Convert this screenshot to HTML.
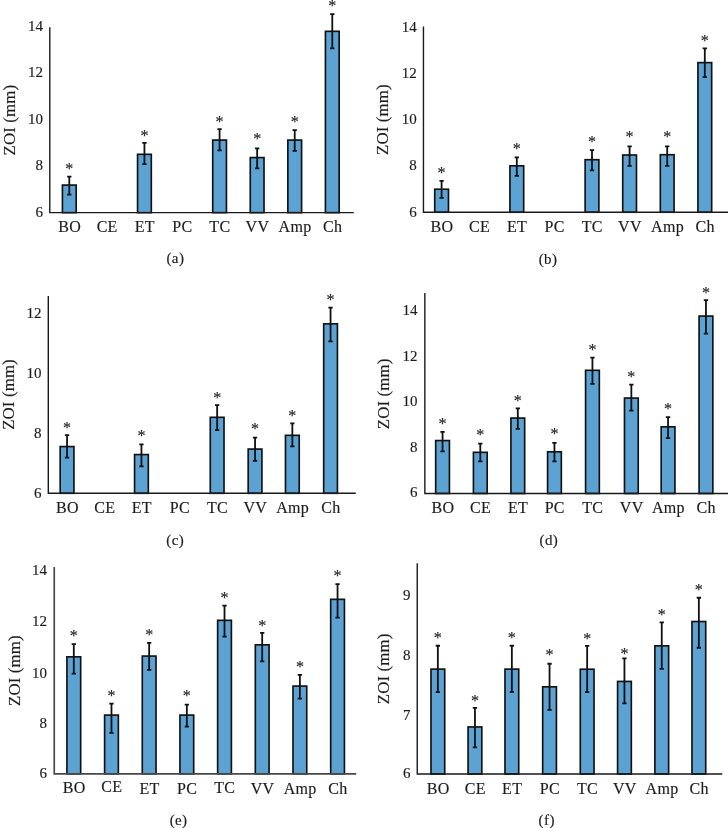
<!DOCTYPE html>
<html><head><meta charset="utf-8"><title>ZOI charts</title>
<style>html,body{margin:0;padding:0;background:#fff}body{width:728px;height:828px;overflow:hidden;position:relative;font-family:"Liberation Serif",serif}svg{position:absolute;left:0;top:0;display:block;font-family:"Liberation Serif",serif}#txt{will-change:transform;transform:translateZ(0)}</style>
</head><body>
<svg width="728" height="828" viewBox="0 0 728 828"><rect width="728" height="828" fill="#fff"/>
<g><rect x="62.43" y="185.07" width="13.75" height="27.58" fill="#5ca2d3" stroke="#111" stroke-width="1.65"/><path d="M69.30 176.25V195.05M67.15 176.70h4.30M67.15 194.60h4.30" stroke="#111" stroke-width="1.80" fill="none"/><rect x="137.56" y="154.32" width="13.75" height="58.33" fill="#5ca2d3" stroke="#111" stroke-width="1.65"/><path d="M144.44 142.50V164.55M142.29 142.95h4.30M142.29 164.10h4.30" stroke="#111" stroke-width="1.80" fill="none"/><rect x="212.70" y="140.07" width="13.75" height="72.58" fill="#5ca2d3" stroke="#111" stroke-width="1.65"/><path d="M219.58 128.75V150.80M217.43 129.20h4.30M217.43 150.35h4.30" stroke="#111" stroke-width="1.80" fill="none"/><rect x="250.27" y="157.57" width="13.75" height="55.08" fill="#5ca2d3" stroke="#111" stroke-width="1.65"/><path d="M257.15 148.00V168.80M255.00 148.45h4.30M255.00 168.35h4.30" stroke="#111" stroke-width="1.80" fill="none"/><rect x="287.85" y="140.07" width="13.75" height="72.58" fill="#5ca2d3" stroke="#111" stroke-width="1.65"/><path d="M294.72 129.75V151.30M292.57 130.20h4.30M292.57 150.85h4.30" stroke="#111" stroke-width="1.80" fill="none"/><rect x="325.42" y="31.32" width="13.75" height="181.33" fill="#5ca2d3" stroke="#111" stroke-width="1.65"/><path d="M332.29 13.75V48.80M330.14 14.20h4.30M330.14 48.35h4.30" stroke="#111" stroke-width="1.80" fill="none"/><path d="M49.80 27.20V212.65H353.75" stroke="#1a1a1a" stroke-width="1.40" fill="none"/></g>
<g><rect x="434.73" y="189.22" width="13.75" height="23.02" fill="#5ca2d3" stroke="#111" stroke-width="1.65"/><path d="M441.60 180.50V198.30M439.45 180.95h4.30M439.45 197.85h4.30" stroke="#111" stroke-width="1.80" fill="none"/><rect x="509.93" y="165.82" width="13.75" height="46.42" fill="#5ca2d3" stroke="#111" stroke-width="1.65"/><path d="M516.80 157.00V176.30M514.65 157.45h4.30M514.65 175.85h4.30" stroke="#111" stroke-width="1.80" fill="none"/><rect x="585.13" y="159.72" width="13.75" height="52.52" fill="#5ca2d3" stroke="#111" stroke-width="1.65"/><path d="M592.00 149.75V170.80M589.85 150.20h4.30M589.85 170.35h4.30" stroke="#111" stroke-width="1.80" fill="none"/><rect x="622.73" y="155.02" width="13.75" height="57.23" fill="#5ca2d3" stroke="#111" stroke-width="1.65"/><path d="M629.60 146.00V166.30M627.45 146.45h4.30M627.45 165.85h4.30" stroke="#111" stroke-width="1.80" fill="none"/><rect x="660.33" y="154.72" width="13.75" height="57.52" fill="#5ca2d3" stroke="#111" stroke-width="1.65"/><path d="M667.20 146.00V166.30M665.05 146.45h4.30M665.05 165.85h4.30" stroke="#111" stroke-width="1.80" fill="none"/><rect x="697.93" y="62.62" width="13.75" height="149.62" fill="#5ca2d3" stroke="#111" stroke-width="1.65"/><path d="M704.80 48.00V77.55M702.65 48.45h4.30M702.65 77.10h4.30" stroke="#111" stroke-width="1.80" fill="none"/><path d="M423.45 26.60V212.25H728.00" stroke="#1a1a1a" stroke-width="1.40" fill="none"/></g>
<g><rect x="60.18" y="446.57" width="13.75" height="46.73" fill="#5ca2d3" stroke="#111" stroke-width="1.65"/><path d="M67.05 434.75V458.05M64.90 435.20h4.30M64.90 457.60h4.30" stroke="#111" stroke-width="1.80" fill="none"/><rect x="134.57" y="454.57" width="13.75" height="38.73" fill="#5ca2d3" stroke="#111" stroke-width="1.65"/><path d="M141.45 444.00V466.80M139.30 444.45h4.30M139.30 466.35h4.30" stroke="#111" stroke-width="1.80" fill="none"/><rect x="210.27" y="417.32" width="13.75" height="75.98" fill="#5ca2d3" stroke="#111" stroke-width="1.65"/><path d="M217.15 404.75V430.55M215.00 405.20h4.30M215.00 430.10h4.30" stroke="#111" stroke-width="1.80" fill="none"/><rect x="248.17" y="449.07" width="13.75" height="44.23" fill="#5ca2d3" stroke="#111" stroke-width="1.65"/><path d="M255.05 437.25V461.30M252.90 437.70h4.30M252.90 460.85h4.30" stroke="#111" stroke-width="1.80" fill="none"/><rect x="285.48" y="435.32" width="13.75" height="57.98" fill="#5ca2d3" stroke="#111" stroke-width="1.65"/><path d="M292.35 423.00V446.80M290.20 423.45h4.30M290.20 446.35h4.30" stroke="#111" stroke-width="1.80" fill="none"/><rect x="323.68" y="323.82" width="13.75" height="169.48" fill="#5ca2d3" stroke="#111" stroke-width="1.65"/><path d="M330.55 307.25V341.80M328.40 307.70h4.30M328.40 341.35h4.30" stroke="#111" stroke-width="1.80" fill="none"/><path d="M48.30 296.00V493.30H355.75" stroke="#1a1a1a" stroke-width="1.40" fill="none"/></g>
<g><rect x="435.68" y="440.57" width="13.75" height="52.92" fill="#5ca2d3" stroke="#111" stroke-width="1.65"/><path d="M442.55 431.50V451.80M440.40 431.95h4.30M440.40 451.35h4.30" stroke="#111" stroke-width="1.80" fill="none"/><rect x="473.43" y="452.32" width="13.75" height="41.17" fill="#5ca2d3" stroke="#111" stroke-width="1.65"/><path d="M480.30 443.25V461.80M478.15 443.70h4.30M478.15 461.35h4.30" stroke="#111" stroke-width="1.80" fill="none"/><rect x="510.93" y="418.07" width="13.75" height="75.42" fill="#5ca2d3" stroke="#111" stroke-width="1.65"/><path d="M517.80 408.00V429.30M515.65 408.45h4.30M515.65 428.85h4.30" stroke="#111" stroke-width="1.80" fill="none"/><rect x="547.58" y="451.82" width="13.75" height="41.67" fill="#5ca2d3" stroke="#111" stroke-width="1.65"/><path d="M554.45 442.50V461.80M552.30 442.95h4.30M552.30 461.35h4.30" stroke="#111" stroke-width="1.80" fill="none"/><rect x="585.58" y="370.32" width="13.75" height="123.17" fill="#5ca2d3" stroke="#111" stroke-width="1.65"/><path d="M592.45 357.25V384.30M590.30 357.70h4.30M590.30 383.85h4.30" stroke="#111" stroke-width="1.80" fill="none"/><rect x="624.48" y="398.07" width="13.75" height="95.42" fill="#5ca2d3" stroke="#111" stroke-width="1.65"/><path d="M631.35 384.25V411.05M629.20 384.70h4.30M629.20 410.60h4.30" stroke="#111" stroke-width="1.80" fill="none"/><rect x="661.18" y="426.82" width="13.75" height="66.67" fill="#5ca2d3" stroke="#111" stroke-width="1.65"/><path d="M668.05 416.75V438.55M665.90 417.20h4.30M665.90 438.10h4.30" stroke="#111" stroke-width="1.80" fill="none"/><rect x="699.08" y="316.07" width="13.75" height="177.43" fill="#5ca2d3" stroke="#111" stroke-width="1.65"/><path d="M705.95 299.75V334.05M703.80 300.20h4.30M703.80 333.60h4.30" stroke="#111" stroke-width="1.80" fill="none"/><path d="M424.85 293.00V493.50H728.00" stroke="#1a1a1a" stroke-width="1.40" fill="none"/></g>
<g><rect x="66.92" y="656.83" width="13.75" height="116.97" fill="#5ca2d3" stroke="#111" stroke-width="1.65"/><path d="M73.80 643.75V674.05M71.65 644.20h4.30M71.65 673.60h4.30" stroke="#111" stroke-width="1.80" fill="none"/><rect x="104.61" y="715.08" width="13.75" height="58.72" fill="#5ca2d3" stroke="#111" stroke-width="1.65"/><path d="M111.48 703.25V733.30M109.33 703.70h4.30M109.33 732.85h4.30" stroke="#111" stroke-width="1.80" fill="none"/><rect x="142.28" y="656.08" width="13.75" height="117.72" fill="#5ca2d3" stroke="#111" stroke-width="1.65"/><path d="M149.16 642.50V670.30M147.01 642.95h4.30M147.01 669.85h4.30" stroke="#111" stroke-width="1.80" fill="none"/><rect x="179.96" y="715.08" width="13.75" height="58.72" fill="#5ca2d3" stroke="#111" stroke-width="1.65"/><path d="M186.84 704.25V727.05M184.69 704.70h4.30M184.69 726.60h4.30" stroke="#111" stroke-width="1.80" fill="none"/><rect x="217.64" y="620.33" width="13.75" height="153.47" fill="#5ca2d3" stroke="#111" stroke-width="1.65"/><path d="M224.52 605.25V637.05M222.37 605.70h4.30M222.37 636.60h4.30" stroke="#111" stroke-width="1.80" fill="none"/><rect x="255.32" y="644.83" width="13.75" height="128.97" fill="#5ca2d3" stroke="#111" stroke-width="1.65"/><path d="M262.20 632.50V661.80M260.05 632.95h4.30M260.05 661.35h4.30" stroke="#111" stroke-width="1.80" fill="none"/><rect x="293.00" y="686.08" width="13.75" height="87.72" fill="#5ca2d3" stroke="#111" stroke-width="1.65"/><path d="M299.88 674.50V699.05M297.73 674.95h4.30M297.73 698.60h4.30" stroke="#111" stroke-width="1.80" fill="none"/><rect x="330.69" y="599.33" width="13.75" height="174.47" fill="#5ca2d3" stroke="#111" stroke-width="1.65"/><path d="M337.56 583.75V618.05M335.41 584.20h4.30M335.41 617.60h4.30" stroke="#111" stroke-width="1.80" fill="none"/><path d="M54.25 567.00V773.80H356.25" stroke="#484848" stroke-width="1.65" fill="none"/></g>
<g><rect x="430.98" y="669.12" width="13.75" height="104.88" fill="#5ca2d3" stroke="#111" stroke-width="1.65"/><path d="M437.85 645.30V692.50M435.70 645.75h4.30M435.70 692.05h4.30" stroke="#111" stroke-width="1.80" fill="none"/><rect x="468.07" y="726.93" width="13.75" height="47.07" fill="#5ca2d3" stroke="#111" stroke-width="1.65"/><path d="M474.95 707.40V747.80M472.80 707.85h4.30M472.80 747.35h4.30" stroke="#111" stroke-width="1.80" fill="none"/><rect x="504.98" y="669.12" width="13.75" height="104.88" fill="#5ca2d3" stroke="#111" stroke-width="1.65"/><path d="M511.85 645.30V692.50M509.70 645.75h4.30M509.70 692.05h4.30" stroke="#111" stroke-width="1.80" fill="none"/><rect x="542.68" y="686.83" width="13.75" height="87.17" fill="#5ca2d3" stroke="#111" stroke-width="1.65"/><path d="M549.55 663.30V710.30M547.40 663.75h4.30M547.40 709.85h4.30" stroke="#111" stroke-width="1.80" fill="none"/><rect x="580.28" y="669.23" width="13.75" height="104.78" fill="#5ca2d3" stroke="#111" stroke-width="1.65"/><path d="M587.15 645.50V692.50M585.00 645.95h4.30M585.00 692.05h4.30" stroke="#111" stroke-width="1.80" fill="none"/><rect x="617.58" y="681.43" width="13.75" height="92.57" fill="#5ca2d3" stroke="#111" stroke-width="1.65"/><path d="M624.45 658.00V703.80M622.30 658.45h4.30M622.30 703.35h4.30" stroke="#111" stroke-width="1.80" fill="none"/><rect x="654.88" y="645.83" width="13.75" height="128.18" fill="#5ca2d3" stroke="#111" stroke-width="1.65"/><path d="M661.75 622.00V669.40M659.60 622.45h4.30M659.60 668.95h4.30" stroke="#111" stroke-width="1.80" fill="none"/><rect x="691.98" y="621.53" width="13.75" height="152.47" fill="#5ca2d3" stroke="#111" stroke-width="1.65"/><path d="M698.85 597.30V648.20M696.70 597.75h4.30M696.70 647.75h4.30" stroke="#111" stroke-width="1.80" fill="none"/><path d="M417.25 563.25V774.00H722.25" stroke="#1a1a1a" stroke-width="1.40" fill="none"/></g>
</svg>
<svg id="txt" width="728" height="828" viewBox="0 0 728 828">
<g stroke="#1c1c1c" stroke-width="0.16"><text x="69.30" y="174.00" font-size="16" text-anchor="middle" fill="#222">*</text><text x="144.44" y="140.75" font-size="16" text-anchor="middle" fill="#222">*</text><text x="219.58" y="126.75" font-size="16" text-anchor="middle" fill="#222">*</text><text x="257.15" y="144.25" font-size="16" text-anchor="middle" fill="#222">*</text><text x="294.72" y="126.75" font-size="16" text-anchor="middle" fill="#222">*</text><text x="332.29" y="11.25" font-size="16" text-anchor="middle" fill="#222">*</text><text x="43.00" y="30.95" font-size="15.0" text-anchor="end" fill="#1c1c1c">14</text><text x="43.00" y="77.45" font-size="15.0" text-anchor="end" fill="#1c1c1c">12</text><text x="43.00" y="123.95" font-size="15.0" text-anchor="end" fill="#1c1c1c">10</text><text x="43.00" y="170.45" font-size="15.0" text-anchor="end" fill="#1c1c1c">8</text><text x="43.00" y="216.95" font-size="15.0" text-anchor="end" fill="#1c1c1c">6</text><text x="69.60" y="232.10" font-size="16.0" text-anchor="middle" fill="#1c1c1c" letter-spacing="0.3">BO</text><text x="107.17" y="232.10" font-size="16.0" text-anchor="middle" fill="#1c1c1c" letter-spacing="0.3">CE</text><text x="144.74" y="232.10" font-size="16.0" text-anchor="middle" fill="#1c1c1c" letter-spacing="0.3">ET</text><text x="182.31" y="232.10" font-size="16.0" text-anchor="middle" fill="#1c1c1c" letter-spacing="0.3">PC</text><text x="219.88" y="232.10" font-size="16.0" text-anchor="middle" fill="#1c1c1c" letter-spacing="0.3">TC</text><text x="257.45" y="232.10" font-size="16.0" text-anchor="middle" fill="#1c1c1c" letter-spacing="0.3">VV</text><text x="295.02" y="232.10" font-size="16.0" text-anchor="middle" fill="#1c1c1c" letter-spacing="0.3">Amp</text><text x="332.59" y="232.10" font-size="16.0" text-anchor="middle" fill="#1c1c1c" letter-spacing="0.3">Ch</text><text transform="translate(14.90 120.10) rotate(-90)" font-size="16.8" text-anchor="middle" fill="#1c1c1c" letter-spacing="0.15">ZOI (mm)</text><text x="175.40" y="263.40" font-size="15.0" text-anchor="middle" fill="#1c1c1c" letter-spacing="0.4">(a)</text></g>
<g stroke="#1c1c1c" stroke-width="0.16"><text x="441.60" y="177.55" font-size="16" text-anchor="middle" fill="#222">*</text><text x="516.80" y="154.25" font-size="16" text-anchor="middle" fill="#222">*</text><text x="592.00" y="147.05" font-size="16" text-anchor="middle" fill="#222">*</text><text x="629.60" y="142.25" font-size="16" text-anchor="middle" fill="#222">*</text><text x="667.20" y="142.25" font-size="16" text-anchor="middle" fill="#222">*</text><text x="704.80" y="45.50" font-size="16" text-anchor="middle" fill="#222">*</text><text x="416.80" y="31.55" font-size="15.0" text-anchor="end" fill="#1c1c1c">14</text><text x="416.80" y="77.85" font-size="15.0" text-anchor="end" fill="#1c1c1c">12</text><text x="416.80" y="123.95" font-size="15.0" text-anchor="end" fill="#1c1c1c">10</text><text x="416.80" y="170.35" font-size="15.0" text-anchor="end" fill="#1c1c1c">8</text><text x="416.80" y="216.65" font-size="15.0" text-anchor="end" fill="#1c1c1c">6</text><text x="441.90" y="232.10" font-size="16.0" text-anchor="middle" fill="#1c1c1c" letter-spacing="0.3">BO</text><text x="479.50" y="232.10" font-size="16.0" text-anchor="middle" fill="#1c1c1c" letter-spacing="0.3">CE</text><text x="517.10" y="232.10" font-size="16.0" text-anchor="middle" fill="#1c1c1c" letter-spacing="0.3">ET</text><text x="554.70" y="232.10" font-size="16.0" text-anchor="middle" fill="#1c1c1c" letter-spacing="0.3">PC</text><text x="592.30" y="232.10" font-size="16.0" text-anchor="middle" fill="#1c1c1c" letter-spacing="0.3">TC</text><text x="629.90" y="232.10" font-size="16.0" text-anchor="middle" fill="#1c1c1c" letter-spacing="0.3">VV</text><text x="667.50" y="232.10" font-size="16.0" text-anchor="middle" fill="#1c1c1c" letter-spacing="0.3">Amp</text><text x="705.10" y="232.10" font-size="16.0" text-anchor="middle" fill="#1c1c1c" letter-spacing="0.3">Ch</text><text transform="translate(387.60 119.60) rotate(-90)" font-size="16.8" text-anchor="middle" fill="#1c1c1c" letter-spacing="0.15">ZOI (mm)</text><text x="548.00" y="263.80" font-size="15.0" text-anchor="middle" fill="#1c1c1c" letter-spacing="0.4">(b)</text></g>
<g stroke="#1c1c1c" stroke-width="0.16"><text x="67.05" y="432.50" font-size="16" text-anchor="middle" fill="#222">*</text><text x="141.45" y="441.25" font-size="16" text-anchor="middle" fill="#222">*</text><text x="217.15" y="402.75" font-size="16" text-anchor="middle" fill="#222">*</text><text x="255.05" y="434.25" font-size="16" text-anchor="middle" fill="#222">*</text><text x="292.35" y="420.55" font-size="16" text-anchor="middle" fill="#222">*</text><text x="330.55" y="304.50" font-size="16" text-anchor="middle" fill="#222">*</text><text x="41.55" y="318.35" font-size="15.0" text-anchor="end" fill="#1c1c1c">12</text><text x="41.55" y="378.05" font-size="15.0" text-anchor="end" fill="#1c1c1c">10</text><text x="41.55" y="437.85" font-size="15.0" text-anchor="end" fill="#1c1c1c">8</text><text x="41.55" y="497.65" font-size="15.0" text-anchor="end" fill="#1c1c1c">6</text><text x="67.35" y="513.00" font-size="16.0" text-anchor="middle" fill="#1c1c1c" letter-spacing="0.3">BO</text><text x="104.85" y="513.00" font-size="16.0" text-anchor="middle" fill="#1c1c1c" letter-spacing="0.3">CE</text><text x="141.75" y="513.00" font-size="16.0" text-anchor="middle" fill="#1c1c1c" letter-spacing="0.3">ET</text><text x="179.85" y="513.00" font-size="16.0" text-anchor="middle" fill="#1c1c1c" letter-spacing="0.3">PC</text><text x="217.45" y="513.00" font-size="16.0" text-anchor="middle" fill="#1c1c1c" letter-spacing="0.3">TC</text><text x="255.35" y="513.00" font-size="16.0" text-anchor="middle" fill="#1c1c1c" letter-spacing="0.3">VV</text><text x="292.65" y="513.00" font-size="16.0" text-anchor="middle" fill="#1c1c1c" letter-spacing="0.3">Amp</text><text x="330.85" y="513.00" font-size="16.0" text-anchor="middle" fill="#1c1c1c" letter-spacing="0.3">Ch</text><text transform="translate(13.90 394.50) rotate(-90)" font-size="16.8" text-anchor="middle" fill="#1c1c1c" letter-spacing="0.15">ZOI (mm)</text><text x="175.30" y="544.90" font-size="15.0" text-anchor="middle" fill="#1c1c1c" letter-spacing="0.4">(c)</text></g>
<g stroke="#1c1c1c" stroke-width="0.16"><text x="442.55" y="428.75" font-size="16" text-anchor="middle" fill="#222">*</text><text x="480.30" y="440.00" font-size="16" text-anchor="middle" fill="#222">*</text><text x="517.80" y="405.75" font-size="16" text-anchor="middle" fill="#222">*</text><text x="554.45" y="439.25" font-size="16" text-anchor="middle" fill="#222">*</text><text x="592.45" y="354.50" font-size="16" text-anchor="middle" fill="#222">*</text><text x="631.35" y="381.50" font-size="16" text-anchor="middle" fill="#222">*</text><text x="668.05" y="414.00" font-size="16" text-anchor="middle" fill="#222">*</text><text x="705.95" y="297.75" font-size="16" text-anchor="middle" fill="#222">*</text><text x="417.60" y="314.85" font-size="15.0" text-anchor="end" fill="#1c1c1c">14</text><text x="417.60" y="360.85" font-size="15.0" text-anchor="end" fill="#1c1c1c">12</text><text x="417.60" y="406.05" font-size="15.0" text-anchor="end" fill="#1c1c1c">10</text><text x="417.60" y="452.25" font-size="15.0" text-anchor="end" fill="#1c1c1c">8</text><text x="417.60" y="497.45" font-size="15.0" text-anchor="end" fill="#1c1c1c">6</text><text x="442.85" y="513.00" font-size="16.0" text-anchor="middle" fill="#1c1c1c" letter-spacing="0.3">BO</text><text x="480.60" y="513.00" font-size="16.0" text-anchor="middle" fill="#1c1c1c" letter-spacing="0.3">CE</text><text x="518.10" y="513.00" font-size="16.0" text-anchor="middle" fill="#1c1c1c" letter-spacing="0.3">ET</text><text x="554.75" y="513.00" font-size="16.0" text-anchor="middle" fill="#1c1c1c" letter-spacing="0.3">PC</text><text x="592.75" y="513.00" font-size="16.0" text-anchor="middle" fill="#1c1c1c" letter-spacing="0.3">TC</text><text x="631.65" y="513.00" font-size="16.0" text-anchor="middle" fill="#1c1c1c" letter-spacing="0.3">VV</text><text x="668.35" y="513.00" font-size="16.0" text-anchor="middle" fill="#1c1c1c" letter-spacing="0.3">Amp</text><text x="706.25" y="513.00" font-size="16.0" text-anchor="middle" fill="#1c1c1c" letter-spacing="0.3">Ch</text><text transform="translate(388.80 393.90) rotate(-90)" font-size="16.8" text-anchor="middle" fill="#1c1c1c" letter-spacing="0.15">ZOI (mm)</text><text x="548.90" y="545.10" font-size="15.0" text-anchor="middle" fill="#1c1c1c" letter-spacing="0.4">(d)</text></g>
<g stroke="#1c1c1c" stroke-width="0.16"><text x="73.80" y="641.00" font-size="16" text-anchor="middle" fill="#222">*</text><text x="111.48" y="701.00" font-size="16" text-anchor="middle" fill="#222">*</text><text x="149.16" y="639.75" font-size="16" text-anchor="middle" fill="#222">*</text><text x="186.84" y="701.00" font-size="16" text-anchor="middle" fill="#222">*</text><text x="224.52" y="603.00" font-size="16" text-anchor="middle" fill="#222">*</text><text x="262.20" y="631.00" font-size="16" text-anchor="middle" fill="#222">*</text><text x="299.88" y="671.75" font-size="16" text-anchor="middle" fill="#222">*</text><text x="337.56" y="580.50" font-size="16" text-anchor="middle" fill="#222">*</text><text x="47.05" y="575.05" font-size="15.0" text-anchor="end" fill="#1c1c1c">14</text><text x="47.05" y="626.30" font-size="15.0" text-anchor="end" fill="#1c1c1c">12</text><text x="47.05" y="677.55" font-size="15.0" text-anchor="end" fill="#1c1c1c">10</text><text x="47.05" y="727.55" font-size="15.0" text-anchor="end" fill="#1c1c1c">8</text><text x="47.05" y="778.05" font-size="15.0" text-anchor="end" fill="#1c1c1c">6</text><text x="74.10" y="793.00" font-size="16.0" text-anchor="middle" fill="#1c1c1c" letter-spacing="0.3">BO</text><text x="111.78" y="791.50" font-size="16.0" text-anchor="middle" fill="#1c1c1c" letter-spacing="0.3">CE</text><text x="149.46" y="793.90" font-size="16.0" text-anchor="middle" fill="#1c1c1c" letter-spacing="0.3">ET</text><text x="187.14" y="793.90" font-size="16.0" text-anchor="middle" fill="#1c1c1c" letter-spacing="0.3">PC</text><text x="224.82" y="793.00" font-size="16.0" text-anchor="middle" fill="#1c1c1c" letter-spacing="0.3">TC</text><text x="262.50" y="794.30" font-size="16.0" text-anchor="middle" fill="#1c1c1c" letter-spacing="0.3">VV</text><text x="300.18" y="793.90" font-size="16.0" text-anchor="middle" fill="#1c1c1c" letter-spacing="0.3">Amp</text><text x="337.86" y="793.90" font-size="16.0" text-anchor="middle" fill="#1c1c1c" letter-spacing="0.3">Ch</text><text transform="translate(19.70 670.70) rotate(-90)" font-size="16.8" text-anchor="middle" fill="#1c1c1c" letter-spacing="0.15">ZOI (mm)</text><text x="178.60" y="825.10" font-size="15.0" text-anchor="middle" fill="#1c1c1c" letter-spacing="0.4">(e)</text></g>
<g stroke="#1c1c1c" stroke-width="0.16"><text x="437.85" y="642.75" font-size="16" text-anchor="middle" fill="#222">*</text><text x="474.95" y="705.85" font-size="16" text-anchor="middle" fill="#222">*</text><text x="511.85" y="642.95" font-size="16" text-anchor="middle" fill="#222">*</text><text x="549.55" y="660.45" font-size="16" text-anchor="middle" fill="#222">*</text><text x="587.15" y="643.55" font-size="16" text-anchor="middle" fill="#222">*</text><text x="624.45" y="658.85" font-size="16" text-anchor="middle" fill="#222">*</text><text x="661.75" y="619.55" font-size="16" text-anchor="middle" fill="#222">*</text><text x="698.85" y="594.85" font-size="16" text-anchor="middle" fill="#222">*</text><text x="410.55" y="600.30" font-size="15.0" text-anchor="end" fill="#1c1c1c">9</text><text x="410.55" y="659.55" font-size="15.0" text-anchor="end" fill="#1c1c1c">8</text><text x="410.55" y="719.55" font-size="15.0" text-anchor="end" fill="#1c1c1c">7</text><text x="410.55" y="778.05" font-size="15.0" text-anchor="end" fill="#1c1c1c">6</text><text x="438.15" y="793.90" font-size="16.0" text-anchor="middle" fill="#1c1c1c" letter-spacing="0.3">BO</text><text x="475.25" y="793.90" font-size="16.0" text-anchor="middle" fill="#1c1c1c" letter-spacing="0.3">CE</text><text x="512.15" y="793.90" font-size="16.0" text-anchor="middle" fill="#1c1c1c" letter-spacing="0.3">ET</text><text x="549.85" y="793.90" font-size="16.0" text-anchor="middle" fill="#1c1c1c" letter-spacing="0.3">PC</text><text x="587.45" y="793.90" font-size="16.0" text-anchor="middle" fill="#1c1c1c" letter-spacing="0.3">TC</text><text x="624.75" y="793.90" font-size="16.0" text-anchor="middle" fill="#1c1c1c" letter-spacing="0.3">VV</text><text x="662.05" y="793.90" font-size="16.0" text-anchor="middle" fill="#1c1c1c" letter-spacing="0.3">Amp</text><text x="699.15" y="793.90" font-size="16.0" text-anchor="middle" fill="#1c1c1c" letter-spacing="0.3">Ch</text><text transform="translate(389.40 668.90) rotate(-90)" font-size="16.8" text-anchor="middle" fill="#1c1c1c" letter-spacing="0.15">ZOI (mm)</text><text x="546.70" y="825.10" font-size="15.0" text-anchor="middle" fill="#1c1c1c" letter-spacing="0.4">(f)</text></g>
</svg>
</body></html>
